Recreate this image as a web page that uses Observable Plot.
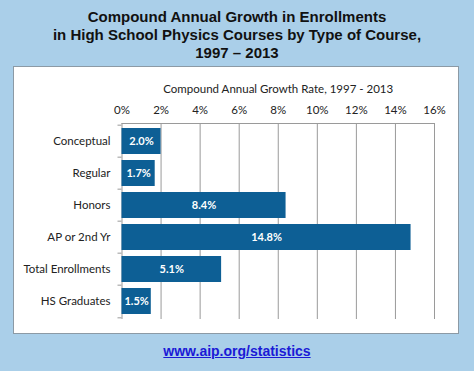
<!DOCTYPE html>
<html><head><meta charset="utf-8">
<script src="https://cdn.jsdelivr.net/npm/d3@7"></script>
<script src="https://cdn.jsdelivr.net/npm/@observablehq/plot@0.6"></script>
<style>
body{margin:0;}
#page{position:relative;width:474px;height:371px;background:#aacfe9;overflow:hidden;font-family:"Liberation Sans",Arial,sans-serif;}
#title{position:absolute;left:0;top:8px;width:474px;text-align:center;font-weight:bold;font-size:15px;line-height:18px;color:#111;}
#panel{position:absolute;left:13px;top:66px;width:444px;height:266px;background:#fff;border:1px solid #8c9aa5;}
#footer{position:absolute;left:0;top:343px;width:474px;text-align:center;font-weight:bold;font-size:14px;}
#footer a{color:#1a1ad6;}
</style></head>
<body>
<div id="page">
  <div id="title">Compound Annual Growth in Enrollments<br>in High School Physics Courses by Type of Course,<br>1997 – 2013</div>
  <div id="panel"></div>
  <div id="footer"><a href="#">www.aip.org/statistics</a></div>
</div>
<script>
const categories = ["Conceptual", "Regular", "Honors", "AP or 2nd Yr", "Total Enrollments", "HS Graduates"];
const values = [2.0, 1.7, 8.4, 14.8, 5.1, 1.5];
const xTicks = [0, 2, 4, 6, 8, 10, 12, 14, 16];
const axisTitle = "Compound Annual Growth Rate, 1997 - 2013";

const data = categories.map((c, i) => ({category: c, value: values[i]}));
const H = 266, mt = 56, mb = 14;
const step = (H - mt - mb) / categories.length;

const chart = Plot.plot({
  width: 444, height: H,
  marginLeft: 107.5, marginRight: 24, marginTop: mt, marginBottom: mb,
  style: {fontFamily: "Lato", fontSize: "11.5px", color: "#222", background: "#fff"},
  x: {domain: [0, 16], ticks: xTicks},
  y: {domain: categories, paddingInner: 0.2, paddingOuter: 0.1},
  marks: [
    Plot.gridX(xTicks, {stroke: "#9a9a9a", strokeOpacity: 1}),
    Plot.frame({anchor: "top", stroke: "#9a9a9a"}),
    Plot.barX(data, {y: "category", x: "value", fill: "#0d5f95"}),
    Plot.text(data, {y: "category", x: d => d.value / 2, text: d => d.value.toFixed(1) + "%", fill: "white", fontWeight: "bold", fontSize: 11}),
    Plot.axisX({anchor: "top", ticks: xTicks, tickSize: 0, tickPadding: 10, tickFormat: d => d + "%", label: axisTitle, labelAnchor: "center", labelArrow: "none", labelOffset: 39}),
    Plot.axisY({tickSize: 0, tickPadding: 11.5, label: null}),
    Plot.axisY({tickSize: 4, text: null, label: null, dy: -step / 2, stroke: "#9a9a9a"}),
    Plot.axisY([categories[categories.length - 1]], {tickSize: 4, text: null, label: null, dy: step / 2, stroke: "#9a9a9a"})
  ]
});
chart.style.position = "absolute";
chart.style.left = "0px";
chart.style.top = "0px";
document.getElementById("panel").appendChild(chart);
</script>
</body></html>
